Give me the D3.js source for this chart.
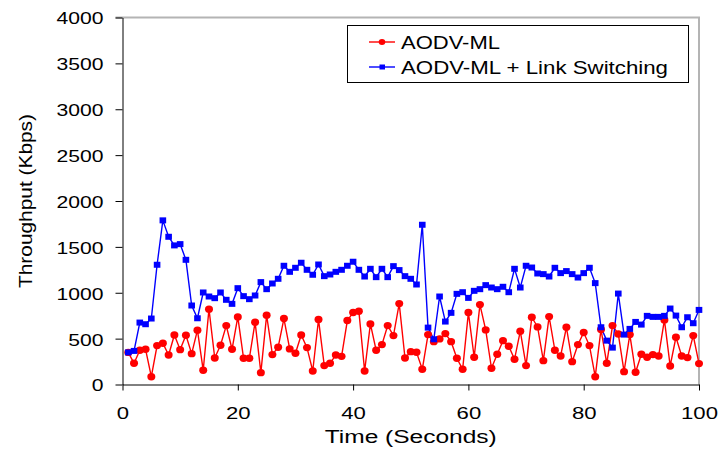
<!DOCTYPE html>
<html><head><meta charset="utf-8">
<script src="https://cdn.jsdelivr.net/npm/d3@7"></script>
<style>body{margin:0;background:#fff}svg{display:block}text{font-family:"Liberation Sans",Arial,sans-serif;fill:#000}</style>
</head><body><svg id="c" width="718" height="451"></svg>
<script>
const timeSec = [1,2,3,4,5,6,7,8,9,10,11,12,13,14,15,16,17,18,19,20,21,22,23,24,25,26,27,28,29,30,31,32,33,34,35,36,37,38,39,40,41,42,43,44,45,46,47,48,49,50,51,52,53,54,55,56,57,58,59,60,61,62,63,64,65,66,67,68,69,70,71,72,73,74,75,76,77,78,79,80,81,82,83,84,85,86,87,88,89,90,91,92,93,94,95,96,97,98,99,100];
const aodvMl = [350,231,373,384,85,424,450,322,540,380,537,336,592,155,821,289,428,642,384,737,286,286,679,129,755,326,406,719,388,340,540,402,147,708,206,231,322,307,697,784,799,147,660,373,435,642,533,882,289,358,351,166,544,467,497,555,467,286,166,784,297,871,595,177,330,478,417,275,581,206,733,628,260,740,373,311,624,249,435,566,424,85,600,231,642,551,140,544,133,330,297,326,311,704,202,515,311,293,533,228];
const aodvMlLs = [350,366,675,657,719,1305,1789,1610,1516,1530,1359,861,722,1003,959,941,1003,923,879,1050,963,930,970,1116,1039,1101,1152,1294,1228,1272,1327,1250,1196,1308,1181,1199,1228,1250,1294,1338,1250,1177,1261,1170,1261,1170,1290,1247,1181,1152,1090,1741,620,493,959,686,781,988,1006,944,1021,1039,1083,1057,1039,1065,1006,1261,1057,1294,1275,1210,1203,1177,1272,1214,1236,1203,1166,1214,1272,1105,624,478,402,991,544,606,682,653,748,737,737,748,828,751,624,733,668,813];
const yTicks = [0,500,1000,1500,2000,2500,3000,3500,4000];
const xTicks = [0,20,40,60,80,100];
const seriesNames = ["AODV-ML","AODV-ML + Link Switching"];
const seriesColors = ["#ff0000","#0000ff"];

const svg = d3.select("#c");
const x = d3.scaleLinear().domain([0,100]).range([122.5,699]);
const y = d3.scaleLinear().domain([0,4000]).range([384.5,17.5]);

// plot border (top/right gray)
svg.append("path").attr("d",`M${x(0)-7},${y(4000)}H${x(100)}V${y(0)}`)
  .attr("fill","none").attr("stroke","#b4b4b4").attr("stroke-width",2);

// axes
const ya = svg.append("g").attr("transform",`translate(${x(0)},0)`)
  .call(d3.axisLeft(y).tickValues(yTicks).tickSize(7).tickSizeOuter(0).tickPadding(12).tickFormat(d=>String(d)));
const xa = svg.append("g").attr("transform",`translate(0,${y(0)})`)
  .call(d3.axisBottom(x).tickValues(xTicks).tickSize(6).tickSizeOuter(0).tickPadding(16).tickFormat(d=>String(d)));
[ya,xa].forEach(g=>{
  g.select(".domain").attr("stroke","#000");
  g.selectAll(".tick line").attr("stroke","#000");
  g.selectAll("text").attr("font-size",17).attr("fill","#000")
   .attr("font-family",'"Liberation Sans",Arial,sans-serif');
});
ya.selectAll("text").attr("dy","0.38em")
  .attr("textLength",d=>String(d).length*11.75).attr("lengthAdjust","spacingAndGlyphs");
xa.selectAll("text")
  .attr("textLength",d=>String(d).length*12.3).attr("lengthAdjust","spacingAndGlyphs");

// axis titles
svg.append("text").attr("x",(x(0)+x(100))/2).attr("y",443).attr("text-anchor","middle")
  .attr("font-size",18).attr("textLength",172).attr("lengthAdjust","spacingAndGlyphs").text("Time (Seconds)");
svg.append("text").attr("transform",`translate(32,${(y(0)+y(4000))/2}) rotate(-90)`).attr("text-anchor","middle")
  .attr("font-size",18).attr("textLength",174).attr("lengthAdjust","spacingAndGlyphs").text("Throughput (Kbps)");

// series
const series = [aodvMl, aodvMlLs];
const line = d3.line().x((d,i)=>x(timeSec[i])).y(d=>y(d));
series.forEach((vals,si)=>{
  svg.append("path").datum(vals).attr("d",line).attr("fill","none")
    .attr("stroke",seriesColors[si]).attr("stroke-width",1.4);
});
svg.append("g").selectAll("ellipse").data(aodvMl).join("ellipse")
  .attr("cx",(d,i)=>x(timeSec[i])).attr("cy",d=>y(d)).attr("rx",4).attr("ry",3.7)
  .attr("fill",seriesColors[0]);
svg.append("g").selectAll("rect").data(aodvMlLs).join("rect")
  .attr("x",(d,i)=>x(timeSec[i])-3.3).attr("y",d=>y(d)-3).attr("width",6.6).attr("height",6)
  .attr("fill",seriesColors[1]);

// legend
const lg = svg.append("g");
lg.append("rect").attr("x",347.5).attr("y",25.5).attr("width",341).attr("height",57)
  .attr("fill","#fff").attr("stroke","#000").attr("stroke-width",1);
const legW = [99,267];
const legY = [42,67];
seriesNames.forEach((nm,i)=>{
  lg.append("line").attr("x1",369).attr("x2",395).attr("y1",legY[i]).attr("y2",legY[i])
    .attr("stroke",seriesColors[i]).attr("stroke-width",1.4);
  if(i===0) lg.append("ellipse").attr("cx",382).attr("cy",legY[i]).attr("rx",3.3).attr("ry",3).attr("fill",seriesColors[i]);
  else lg.append("rect").attr("x",379.5).attr("y",legY[i]-2.5).attr("width",5.5).attr("height",5).attr("fill",seriesColors[i]);
  lg.append("text").attr("x",401).attr("y",legY[i]+6.5).attr("font-size",18)
    .attr("textLength",legW[i]).attr("lengthAdjust","spacingAndGlyphs").text(nm);
});
</script></body></html>
